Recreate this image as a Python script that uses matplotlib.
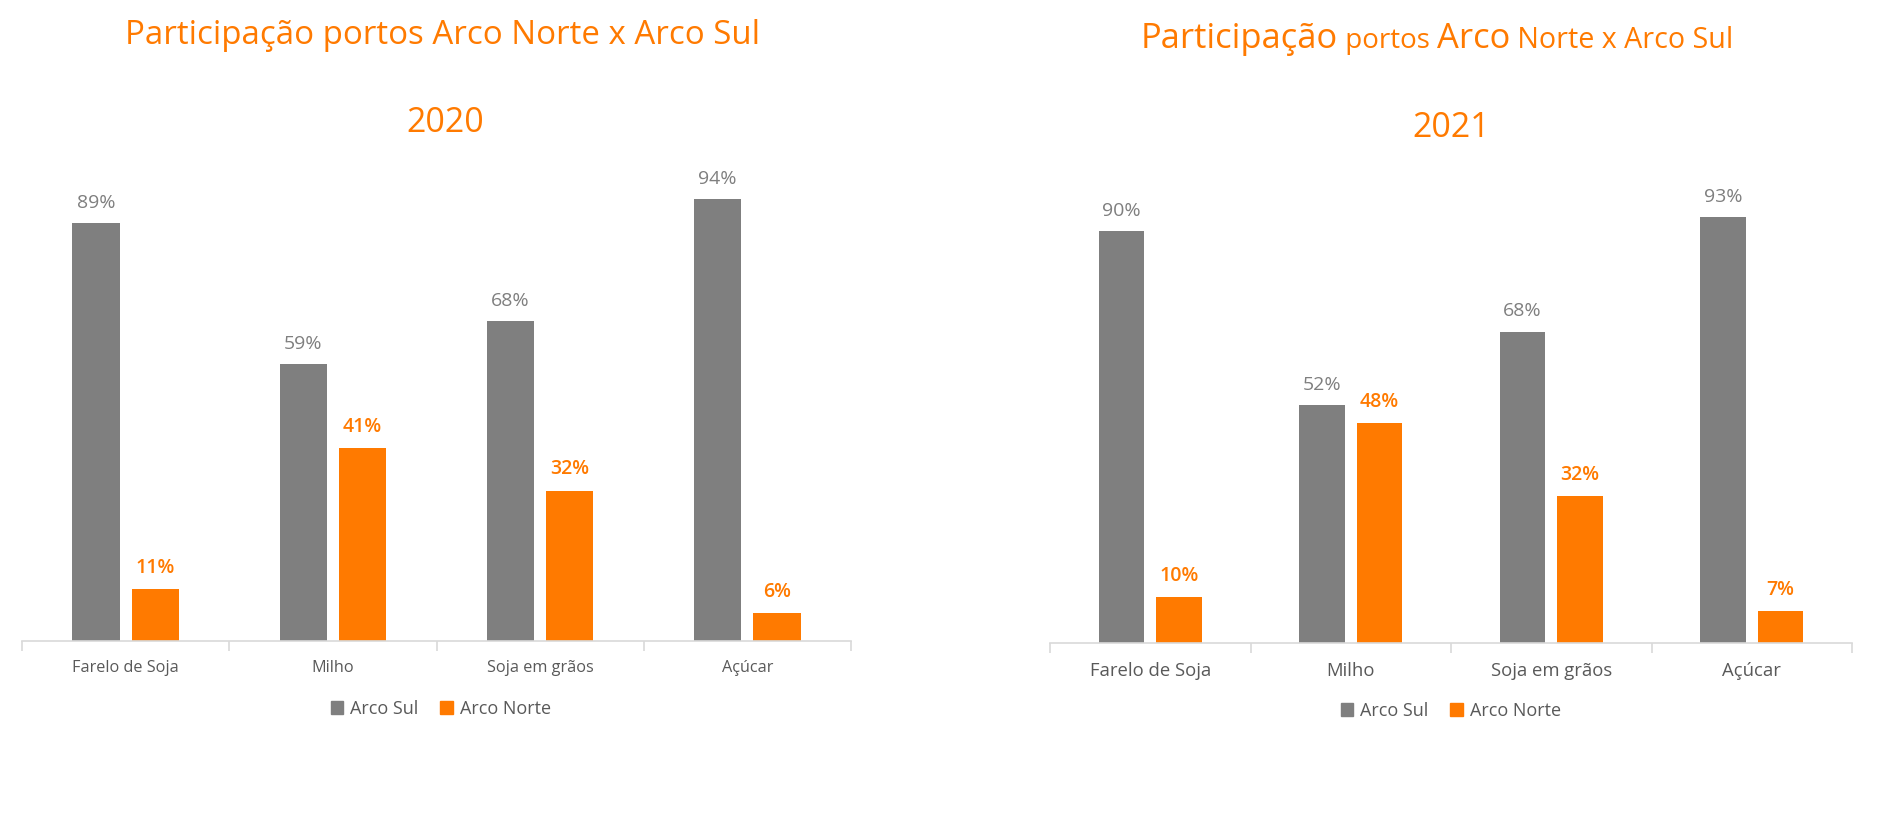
import matplotlib
matplotlib.use("Agg")
import matplotlib.pyplot as plt
from matplotlib.patches import Patch
import numpy as np

plt.rcParams['font.family'] = ['Open Sans', 'DejaVu Sans']

categories = ["Farelo de Soja", "Milho", "Soja em grãos", "Açúcar"]
series_names = ["Arco Sul", "Arco Norte"]
sul_2020 = [89, 59, 68, 94]
norte_2020 = [11, 41, 32, 6]
sul_2021 = [90, 52, 68, 93]
norte_2021 = [10, 48, 32, 7]

GRAY = "#7F7F7F"
ORANGE = "#FF7A00"
AXIS = "#D9D9D9"
TICK_TXT = "#595959"

fig = plt.figure(figsize=(18.8, 8.39), dpi=100)


def draw_panel(rect, sul, norte, tick_fs, lab_fs, leg_xy, leg_fs):
    ax = fig.add_axes(rect)
    x = np.arange(len(categories))
    w = 0.227
    off = 0.143
    b1 = ax.bar(x - off, sul, w, color=GRAY)
    b2 = ax.bar(x + off, norte, w, color=ORANGE)
    for bars, vals, col, wt in ((b1, sul, GRAY, 'normal'), (b2, norte, ORANGE, 'semibold')):
        for r, v in zip(bars, vals):
            ax.annotate(f"{v}%", (r.get_x() + r.get_width() / 2, r.get_height()),
                        xytext=(0, 8), textcoords='offset points', ha='center', va='bottom',
                        color=col, fontsize=lab_fs, fontweight=wt)
    ax.set_xlim(-0.5, len(categories) - 0.5)
    ax.set_ylim(0, 100)
    ax.set_xticks(x)
    ax.set_xticklabels(categories, fontsize=tick_fs, color=TICK_TXT)
    ax.set_xticks(np.arange(len(categories) + 1) - 0.5, minor=True)
    ax.tick_params(axis='x', which='major', length=0, pad=14)
    ax.tick_params(axis='x', which='minor', length=7, width=1.2, color=AXIS, direction='out')
    ax.set_yticks([])
    for s in ('top', 'right', 'left'):
        ax.spines[s].set_visible(False)
    ax.spines['bottom'].set_color(AXIS)
    ax.spines['bottom'].set_linewidth(1.2)
    handles = [Patch(color=GRAY, label=series_names[0]), Patch(color=ORANGE, label=series_names[1])]
    fig.legend(handles=handles, loc='center', bbox_to_anchor=leg_xy, ncol=2, frameon=False,
               fontsize=leg_fs, handlelength=0.7, handleheight=0.7, handletextpad=0.4,
               columnspacing=1.2, labelcolor=TICK_TXT)
    return ax


draw_panel([22 / 1880, 1 - 641 / 839, (851 - 22) / 1880, 470 / 839], sul_2020, norte_2020,
           11.7, 14, (441 / 1880, 1 - 709 / 839), 13)
draw_panel([1050 / 1880, 1 - 643 / 839, (1852 - 1050) / 1880, 458 / 839], sul_2021, norte_2021,
           13.3, 14, (1451 / 1880, 1 - 711 / 839), 13)

# Left titles
fig.text(443 / 1880, 1 - 36 / 839, "Participação portos Arco Norte x Arco Sul", ha='center', va='center',
         color=ORANGE, fontsize=23.8)
fig.text(445 / 1880, 1 - 123 / 839, "2020", ha='center', va='center', color=ORANGE, fontsize=24.5)

# Right title, mixed sizes
pieces = [("Participação", 24.8), (" portos ", 20), ("Arco", 24.8), (" Norte x Arco Sul", 20.6)]
fig.canvas.draw()
renderer = fig.canvas.get_renderer()
texts = []
for s, fs in pieces:
    t = fig.text(0, 1 - 48 / 839, s, ha='left', va='baseline', color=ORANGE, fontsize=fs)
    texts.append(t)
widths = [t.get_window_extent(renderer).width for t in texts]
total = sum(widths)
start = 1437 - total / 2
xpos = start
for t, wd in zip(texts, widths):
    t.set_x(xpos / 1880)
    xpos += wd
fig.text(1451 / 1880, 1 - 128 / 839, "2021", ha='center', va='center', color=ORANGE, fontsize=24.5)

fig.savefig("out.png", dpi=100, facecolor='white')
